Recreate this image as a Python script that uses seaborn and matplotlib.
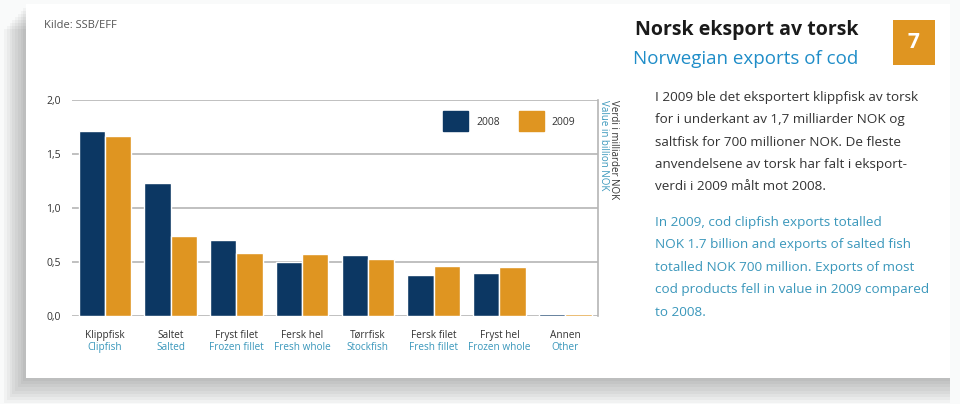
import numpy as np
import pandas as pd
import matplotlib.pyplot as plt
import matplotlib.patches as mpatches
import seaborn as sns

# Data (milliarder NOK)
kategorier_no = ['Klippfisk', 'Saltet', 'Fryst filet', 'Fersk hel', 'Tørrfisk',
                 'Fersk filet', 'Fryst hel', 'Annen']
kategorier_en = ['Clipfish', 'Salted', 'Frozen fillet', 'Fresh whole', 'Stockfish',
                 'Fresh fillet', 'Frozen whole', 'Other']
verdi_2008 = [1.71, 1.23, 0.70, 0.50, 0.56, 0.38, 0.40, 0.015]
verdi_2009 = [1.665, 0.74, 0.585, 0.57, 0.525, 0.465, 0.455, 0.015]
aar = ['2008', '2009']
y_ticks = [0.0, 0.5, 1.0, 1.5, 2.0]
y_labels = ['0,0', '0,5', '1,0', '1,5', '2,0']

navy = '#0c3763'
orange = '#df9521'
blue_txt = '#3a97bb'
title_blue = '#1f8dc8'
dark = '#333333'

df = pd.DataFrame({
    'kategori': kategorier_no * 2,
    'aar': [aar[0]] * len(verdi_2008) + [aar[1]] * len(verdi_2009),
    'verdi': verdi_2008 + verdi_2009,
})

sns.set_style('white')
plt.rcParams['font.family'] = ['Open Sans', 'DejaVu Sans']

fig = plt.figure(figsize=(9.6, 4.04), dpi=100)
fig.patch.set_facecolor('#f9fafa')

# kort med myk skygge
for i in range(8):
    off = (8 - i) * 0.0035
    fig.patches.append(mpatches.Rectangle((0.027 - off * 0.8, 0.064 - off * 2.2), 0.963 + off * 0.8,
                                          0.925, transform=fig.transFigure,
                                          facecolor='#000000', alpha=0.03, edgecolor='none', zorder=-2))
fig.patches.append(mpatches.Rectangle((0.027, 0.064), 0.963, 0.925, transform=fig.transFigure,
                                      facecolor='white', edgecolor='none', zorder=-1))

ax = fig.add_axes([0.075, 0.218, 0.548, 0.535])
ax.set_facecolor('none')
sns.barplot(data=df, x='kategori', y='verdi', hue='aar', palette=[navy, orange],
            width=0.8, saturation=1, ax=ax, legend=False, zorder=3)

ax.set_ylim(0, 2.0)
ax.set_xlim(-0.5, len(kategorier_no) - 0.5)
ax.set_yticks(y_ticks)
ax.set_yticklabels(y_labels, fontsize=7.5, color=dark)
ax.tick_params(axis='y', length=0, pad=8)
ax.set_xticks([])
ax.set_xlabel('')
ax.set_ylabel('')
ax.grid(axis='y', color='#b5b5b5', linewidth=1.2, zorder=0)
for s in ['left', 'top', 'bottom']:
    ax.spines[s].set_visible(False)
ax.spines['right'].set_color('#b5b5b5')
ax.spines['right'].set_linewidth(1.2)

tr = ax.get_xaxis_transform()
for i, (no, en) in enumerate(zip(kategorier_no, kategorier_en)):
    ax.text(i, -0.09, no, transform=tr, ha='center', va='center', fontsize=7.2, color=dark)
    ax.text(i, -0.145, en, transform=tr, ha='center', va='center', fontsize=7.2, color=blue_txt)

# legend
handles = [mpatches.Patch(color=navy, label=aar[0]), mpatches.Patch(color=orange, label=aar[1])]
ax.legend(handles=handles, loc='upper right', bbox_to_anchor=(0.975, 0.99), ncol=2, frameon=False,
          handlelength=2.4, handleheight=2.6, columnspacing=1.8, handletextpad=0.8,
          fontsize=7.5, labelcolor=dark)

# rotert aksetekst
fig.text(0.639, 0.752, 'Verdi i milliarder NOK', rotation=270, ha='center', va='top',
         fontsize=7, color=dark)
fig.text(0.629, 0.752, 'Value in billion NOK', rotation=270, ha='center', va='top',
         fontsize=7, color=blue_txt)

fig.text(0.046, 0.937, 'Kilde: SSB/EFF', fontsize=8, color='#555555', va='center')

# titler
fig.text(0.894, 0.925, 'Norsk eksport av torsk', fontsize=14, fontweight='bold',
         color='#1a1a1a', ha='right', va='center')
fig.text(0.894, 0.855, 'Norwegian exports of cod', fontsize=13.5, color=title_blue,
         ha='right', va='center')
fig.patches.append(mpatches.Rectangle((0.930, 0.838), 0.044, 0.112, transform=fig.transFigure,
                                      facecolor=orange, edgecolor='none', zorder=2))
fig.text(0.952, 0.894, '7', fontsize=15, fontweight='bold', color='white', ha='center', va='center')

no_txt = ['I 2009 ble det eksportert klippfisk av torsk',
          'for i underkant av 1,7 milliarder NOK og',
          'saltfisk for 700 millioner NOK. De fleste',
          'anvendelsene av torsk har falt i eksport-',
          'verdi i 2009 målt mot 2008.']
en_txt = ['In 2009, cod clipfish exports totalled',
          'NOK 1.7 billion and exports of salted fish',
          'totalled NOK 700 million. Exports of most',
          'cod products fell in value in 2009 compared',
          'to 2008.']
for i, line in enumerate(no_txt):
    fig.text(0.682, 1 - (97 + i * 22.5) / 404, line, fontsize=9.7, color=dark, va='center')
for i, line in enumerate(en_txt):
    fig.text(0.682, 1 - (222 + i * 22.5) / 404, line, fontsize=9.7, color=blue_txt, va='center')

fig.savefig('out.png', dpi=100)
